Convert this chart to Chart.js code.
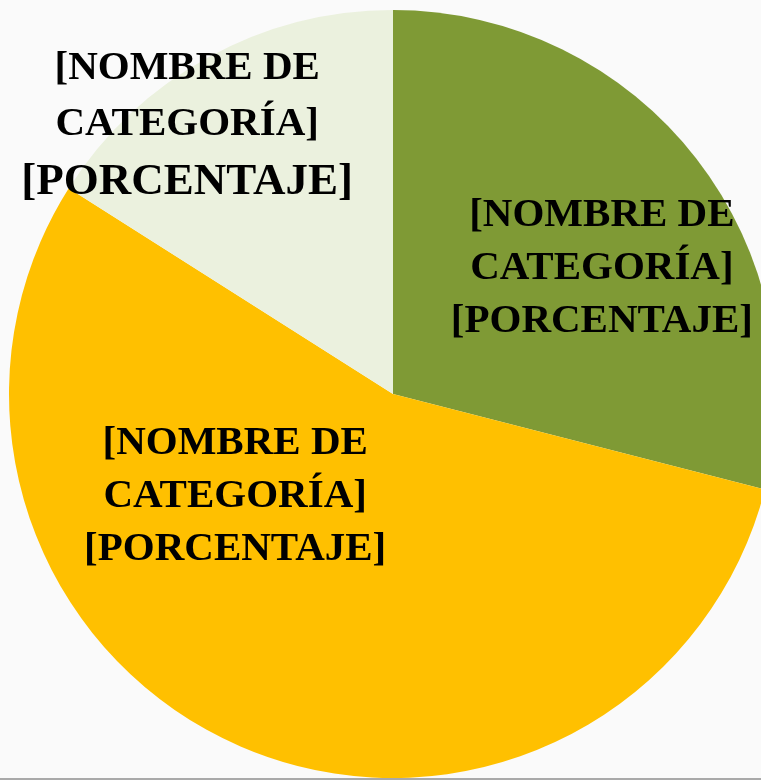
<!DOCTYPE html>
<html>
<head>
<meta charset="utf-8">
<script src="https://cdn.jsdelivr.net/npm/chart.js@4"></script>
<style>
  html, body { margin: 0; padding: 0; background: #fafafa; overflow: hidden; }
  #wrap { position: relative; width: 761px; height: 780px; overflow: hidden; background: #fafafa; }
  #c { position: absolute; left: 0; top: 0; }
  #base { position: absolute; left: 0; top: 778px; width: 761px; height: 2px; background: #a9a9a9; }
</style>
</head>
<body>
<div id="wrap">
  <canvas id="c" width="800" height="800"></canvas>
  <div id="base"></div>
</div>
<script>
const categories = ["Categoría 1", "Categoría 2", "Categoría 3"];
const values = [29, 55, 16];
const colors = ["#7f9a35", "#ffc000", "#ebf1de"];
const labelLines = ["[NOMBRE DE", "CATEGORÍA]", "[PORCENTAJE]"];
// label centre offsets as fractions of the pie radius (placement only)
const labelOffsets = [[0.544, -0.326], [-0.411, 0.266], [-0.536, -0.702]];
const labelLineOffsets = [[-53, 0, 53], [-53, 0, 53], [-56, 0, 57.5]];
const labelFontSizes = [[41, 41, 41], [41, 41, 41], [41, 41, 45]];

const labelPlugin = {
  id: 'sliceLabels',
  afterDatasetsDraw(chart) {
    const ctx = chart.ctx;
    const meta = chart.getDatasetMeta(0);
    ctx.save();
    ctx.fillStyle = '#000';
    ctx.textAlign = 'center';
    ctx.textBaseline = 'middle';
    meta.data.forEach((arc, i) => {
      const r = arc.outerRadius;
      const cx = arc.x + labelOffsets[i][0] * r;
      const cy = arc.y + labelOffsets[i][1] * r;
      labelLines.forEach((t, j) => {
        ctx.font = 'bold ' + labelFontSizes[i][j] + 'px "Liberation Serif", "DejaVu Serif", serif';
        ctx.fillText(t, cx, cy + labelLineOffsets[i][j]);
      });
    });
    ctx.restore();
  }
};

new Chart(document.getElementById('c'), {
  type: 'pie',
  data: {
    labels: categories,
    datasets: [{
      data: values,
      backgroundColor: colors,
      borderWidth: 0
    }]
  },
  options: {
    responsive: false,
    animation: false,
    layout: { padding: { left: 9, top: 10, right: 23, bottom: 22 } },
    plugins: { legend: { display: false }, tooltip: { enabled: false } }
  },
  plugins: [labelPlugin]
});
</script>
</body>
</html>
